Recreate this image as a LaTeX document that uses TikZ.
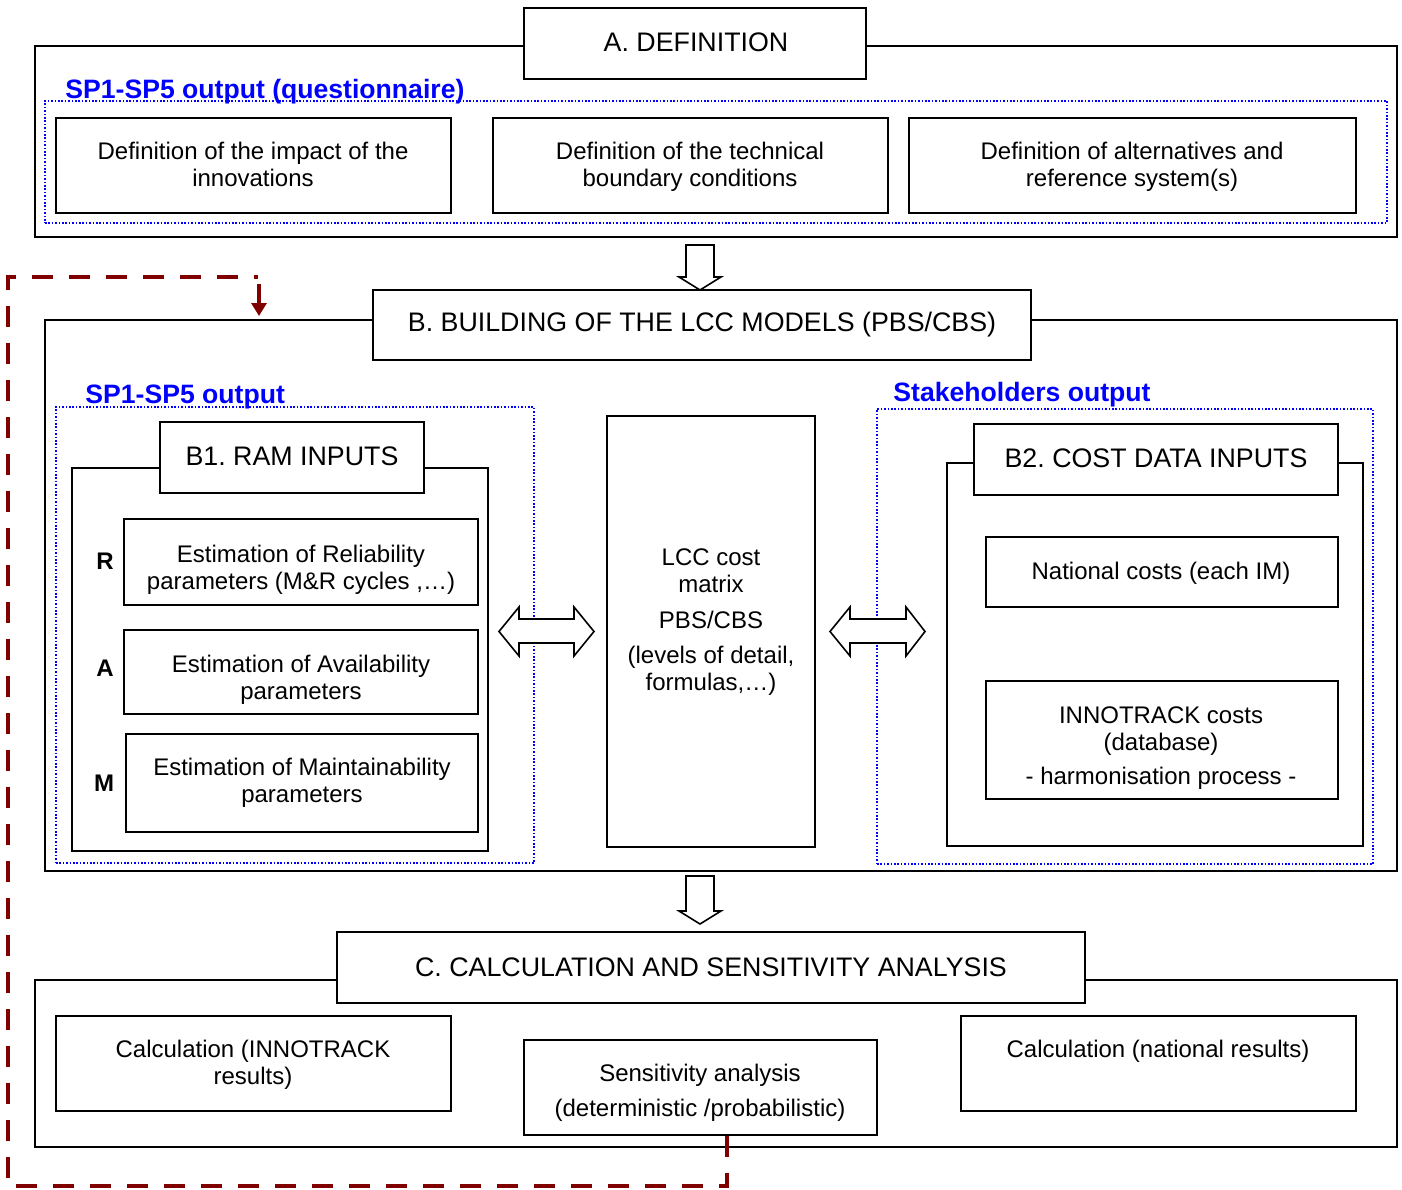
\documentclass[tikz,border=0pt]{standalone}
\usepackage{fontspec}
\setmainfont{Liberation Sans}
\usetikzlibrary{fit,calc,arrows.meta}
\definecolor{dred}{RGB}{128,0,0}
\definecolor{sblue}{RGB}{0,0,255}
\frenchspacing
\begin{document}
\begin{tikzpicture}[x=0.5pt,y=-0.5pt,
 box/.style={draw=black,line width=1pt,fill=white,inner sep=0pt,rectangle},
 zone/.style={draw=sblue,line width=0.8pt,dash pattern=on 0.8pt off 0.9pt,inner sep=0pt,rectangle},
 zlabel/.style={text=sblue,font=\fontsize{13.3}{15}\selectfont\bfseries,anchor=base west,inner sep=0pt},
 title/.style={font=\fontsize{13.4}{15}\selectfont\frenchspacing,inner sep=0pt},
 txt/.style={font=\fontsize{12}{13.5}\selectfont,align=center,inner sep=0pt,
   execute at begin node=\strut,execute at end node=\strut},
 ltr/.style={font=\fontsize{12}{13.5}\selectfont\bfseries,inner sep=0pt},
 hollow/.style={draw=black,line width=0.8pt,fill=white,line join=miter},
 fb/.style={draw=dred,line width=2pt,dash pattern=on 10.5pt off 8pt}]
\useasboundingbox (0,0) rectangle (1402,1189);

% ---------- A ----------
\node[box,fit={(35,46)(1397,237)}] (Aframe) {};
\node[box,fit={(524,8)(866,79)}] (Atitle) {};
\node[title] (Atxt) at (696,42) {A. DEFINITION};
\node[zone,fit={(45,101)(1387,223)}] (Azone) {};
\node[zlabel] (Alab) at (65,98) {SP1-SP5 output (questionnaire)};
\node[box,fit={(56,118)(451,213)}] (A1) {};
\node[txt] (A1t) at (253,168.8) {Definition of the impact of the\\innovations};
\node[box,fit={(493,118)(888,213)}] (A2) {};
\node[txt] (A2t) at (690,168.8) {Definition of the technical\\boundary conditions};
\node[box,fit={(909,118)(1356,213)}] (A3) {};
\node[txt] (A3t) at (1132,168.8) {Definition of alternatives and\\reference system(s)};

% hollow arrow A -> B
\draw[hollow] (686,245) -- (714,245) -- (714,277) -- (721,277) -- (700,290)
  -- (679,277) -- (686,277) -- cycle;

% ---------- B ----------
\node[box,fit={(45,320)(1397,871)}] (Bframe) {};
\node[box,fit={(373,290)(1031,360)}] (Btitle) {};
\node[title] (Btxt) at (702,324.5) {B. BUILDING OF THE LCC MODELS (PBS/CBS)};

\node[zone,fit={(56,407)(534,863)}] (BLzone) {};
\node[zlabel] (BLlab) at (85,403) {SP1-SP5 output};
\node[box,fit={(72,468)(488,851)}] (B1frame) {};
\node[box,fit={(160,422)(424,493)}] (B1title) {};
\node[title] (B1txt) at (292,456) {B1. RAM INPUTS};
\node[box,fit={(124,519)(478,605)}] (Rbox) {};
\node[txt] (Rt) at (301,571.3) {Estimation of Reliability\\parameters (M\&R cycles ,…)};
\node[box,fit={(124,630)(478,714)}] (Abox) {};
\node[txt] (At) at (301,681.3) {Estimation of Availability\\parameters};
\node[box,fit={(126,734)(478,832)}] (Mbox) {};
\node[txt] (Mt) at (302,784.8) {Estimation of Maintainability\\parameters};
\node[ltr] (Rl) at (105,561) {R};
\node[ltr] (Al) at (105,668) {A};
\node[ltr] (Ml) at (104,783) {M};

\node[box,fit={(607,416)(815,847)}] (LCC) {};
\node[txt] (LCCt) at (711,623.3) {LCC cost\\matrix\\[4.5pt]PBS/CBS\\[4pt](levels of detail,\\formulas,…)};

\node[zone,fit={(877,409)(1373,864)}] (BRzone) {};
\node[zlabel] (BRlab) at (893,401) {Stakeholders output};
\node[box,fit={(947,463)(1363,846)}] (B2frame) {};
\node[box,fit={(974,424)(1338,495)}] (B2title) {};
\node[title] (B2txt) at (1156,458) {B2. COST DATA INPUTS};
\node[box,fit={(986,537)(1338,607)}] (Nat) {};
\node[txt] (Natt) at (1161,574.3) {National costs (each IM)};
\node[box,fit={(986,681)(1338,799)}] (Inno) {};
\node[txt] (Innot) at (1161,749.8) {INNOTRACK costs\\(database)\\[3.5pt]- harmonisation process -};

% double arrows
\draw[hollow] (499,631.5) -- (519,607) -- (519,619) -- (574,619) -- (574,607) -- (594,631.5)
  -- (574,656) -- (574,643) -- (519,643) -- (519,656) -- cycle;
\draw[hollow] (830,631.5) -- (850,607) -- (850,619) -- (906,619) -- (906,607) -- (925,631.5)
  -- (906,656) -- (906,643) -- (850,643) -- (850,656) -- cycle;

% hollow arrow B -> C
\draw[hollow] (686,876) -- (714,876) -- (714,911) -- (721,911) -- (700,924)
  -- (679,911) -- (686,911) -- cycle;

% ---------- C ----------
\node[box,fit={(35,980)(1397,1147)}] (Cframe) {};
\node[box,fit={(337,932)(1085,1003)}] (Ctitle) {};
\node[title] (Ctxt) at (711,967) {C. CALCULATION AND SENSITIVITY ANALYSIS};
\node[box,fit={(56,1016)(451,1111)}] (C1) {};
\node[txt] (C1t) at (253,1066.8) {Calculation (INNOTRACK\\results)};
\node[box,fit={(524,1040)(877,1135)}] (sens) {};
\node[txt] (senst) at (700,1094.8) {Sensitivity analysis\\[4pt](deterministic /probabilistic)};
\node[box,fit={(961,1016)(1356,1111)}] (C3) {};
\node[txt] (C3t) at (1158,1052.3) {Calculation (national results)};

% ---------- feedback loop ----------
\coordinate (fbstart) at ($(sens.south)+(26.5,0)$);
\coordinate (fbin) at ($(Bframe.north west)+(215,0)$);
\draw[fb] (fbstart) -- (727,1186) -- (8,1186) -- (8,277) -- (258,277);
\draw[draw=dred,line width=1.6pt,-{Triangle[width=7.5pt,length=6.5pt]}] ($(fbin)+(0,-35)$) -- ($(fbin)+(0,-3)$);
\end{tikzpicture}
\end{document}
